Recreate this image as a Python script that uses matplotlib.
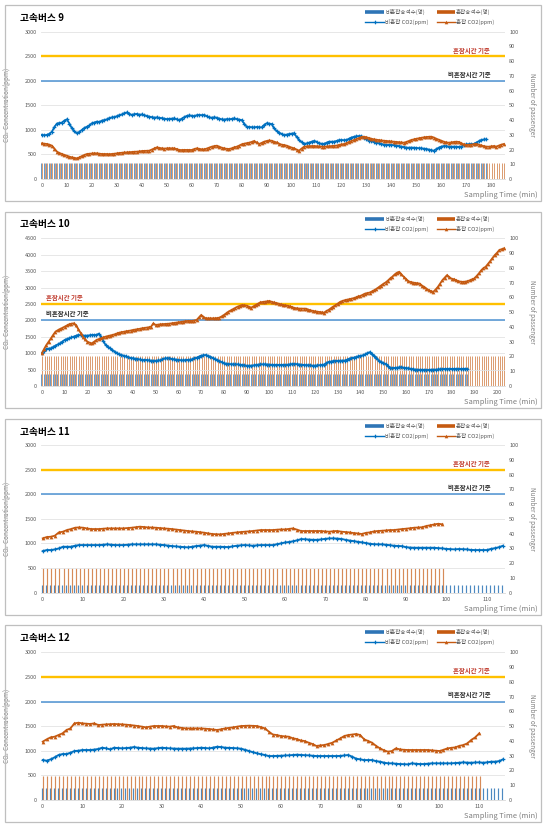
import matplotlib
matplotlib.use("Agg")
import numpy as np
import matplotlib.pyplot as plt
from matplotlib.lines import Line2D
from matplotlib.patches import Rectangle

plt.rcParams['font.family'] = ['Noto Sans CJK KR', 'DejaVu Sans']
plt.rcParams['axes.unicode_minus'] = False

W, H = 550, 827

BLUE_BAR = '#2E75B6'
ORANGE_BAR = '#C55A11'
BLUE_LINE = '#0070C0'
ORANGE_LINE = '#C55A11'
GOLD = '#FFC000'
REF_BLUE = '#5B9BD5'

# ---- 고속버스 9 ----
bus9_calm_co2 = [
    900, 890, 900, 920, 965, 1060, 1130, 1140, 1150, 1190, 1215, 1130, 1030, 970, 930, 960,
    1000, 1040, 1065, 1090, 1135, 1150, 1170, 1160, 1190, 1200, 1215, 1240, 1255, 1260, 1280, 1300,
    1315, 1340, 1355, 1330, 1305, 1320, 1325, 1310, 1315, 1300, 1285, 1270, 1260, 1250, 1255, 1245,
    1240, 1230, 1220, 1225, 1230, 1235, 1215, 1200, 1230, 1260, 1285, 1295, 1290, 1280, 1300, 1305,
    1300, 1305, 1280, 1255, 1250, 1255, 1250, 1230, 1215, 1210, 1220, 1215, 1225, 1235, 1220, 1210,
    1200, 1130, 1065, 1060, 1055, 1050, 1060, 1055, 1050, 1100, 1135, 1130, 1120, 1030, 980, 945,
    920, 895, 905, 915, 925, 930, 860, 795, 750, 715, 725, 740, 760, 775, 760, 725,
    720, 715, 740, 760, 760, 760, 775, 790, 795, 790, 795, 820, 845, 860, 870, 875,
    870, 845, 815, 780, 770, 760, 740, 725, 715, 700, 692, 695, 692, 690, 680, 668,
    658, 650, 640, 638, 640, 638, 632, 628, 625, 618, 612, 600, 585, 577, 610, 640,
    660, 672, 668, 660, 658, 660, 658, 655, 658, 690, 705, 710, 712, 713, 740, 770,
    795, 805, 808]
bus9_rush_co2 = [
    726, 720, 713, 700, 679, 620, 557, 530, 509, 490, 475, 455, 441, 430, 421, 440,
    468, 490, 509, 515, 523, 525, 523, 515, 509, 510, 509, 505, 509, 515, 523, 530,
    536, 540, 543, 548, 550, 555, 557, 562, 570, 572, 575, 577, 600, 625, 645, 635,
    625, 620, 625, 628, 625, 625, 610, 591, 590, 592, 591, 588, 591, 610, 625, 615,
    605, 604, 620, 640, 658, 670, 679, 660, 638, 625, 615, 611, 625, 645, 658, 680,
    706, 720, 730, 740, 755, 774, 745, 713, 735, 760, 774, 785, 780, 760, 745, 720,
    700, 692, 680, 660, 640, 625, 600, 577, 620, 658, 665, 670, 672, 672, 668, 665,
    660, 658, 662, 668, 670, 672, 680, 695, 705, 713, 730, 755, 775, 794, 815, 835,
    855, 862, 850, 835, 820, 808, 800, 790, 785, 781, 775, 770, 765, 760, 755, 750,
    745, 740, 755, 775, 795, 808, 820, 830, 840, 849, 855, 860, 862, 845, 820, 800,
    780, 760, 745, 740, 745, 755, 760, 755, 730, 705, 692, 695, 700, 708, 713, 700,
    685, 670, 660, 658, 665, 672, 660, 680, 700, 713]
bus9_calm_pax = [11] * 179
bus9_rush_pax = [11] * 186

# ---- 고속버스 10 ----
bus10_calm_co2 = [
    996, 1080, 1128, 1140, 1148, 1190, 1230, 1265, 1300, 1350, 1402, 1430, 1453, 1480, 1504, 1530,
    1555, 1545, 1535, 1535, 1535, 1545, 1555, 1555, 1555, 1595, 1504, 1380, 1250, 1200, 1148, 1100,
    1047, 1005, 965, 945, 925, 900, 874, 858, 843, 833, 823, 808, 793, 793, 793, 782,
    772, 772, 772, 777, 782, 810, 843, 843, 843, 828, 813, 803, 793, 788, 782, 788,
    793, 803, 813, 838, 864, 895, 925, 935, 945, 920, 894, 860, 823, 792, 762, 726,
    691, 681, 671, 665, 660, 660, 660, 650, 640, 630, 620, 620, 620, 630, 640, 650,
    660, 660, 660, 655, 650, 645, 643, 643, 643, 643, 643, 643, 650, 660, 668, 674,
    665, 655, 648, 643, 635, 630, 625, 622, 622, 625, 635, 645, 653, 700, 735, 745,
    760, 765, 770, 772, 774, 776, 800, 830, 847, 865, 878, 900, 920, 935, 960, 1000,
    1031, 960, 929, 860, 776, 740, 700, 674, 600, 541, 545, 551, 560, 565, 571, 560,
    550, 541, 530, 515, 500, 498, 495, 492, 490, 490, 492, 495, 498, 500, 505, 510,
    515, 520, 520, 518, 520, 520, 522, 520, 518, 520, 520, 522]
bus10_rush_co2 = [
    996, 1130, 1250, 1350, 1453, 1560, 1657, 1700, 1738, 1770, 1809, 1845, 1880, 1900, 1910, 1850,
    1738, 1620, 1504, 1420, 1352, 1320, 1300, 1350, 1402, 1430, 1453, 1480, 1504, 1520, 1535, 1555,
    1575, 1600, 1626, 1640, 1657, 1667, 1677, 1690, 1707, 1718, 1728, 1743, 1758, 1768, 1779, 1790,
    1809, 1910, 1860, 1870, 1880, 1885, 1890, 1895, 1900, 1910, 1921, 1930, 1941, 1950, 1961, 1970,
    1982, 1982, 1982, 1995, 2012, 2090, 2164, 2110, 2063, 2063, 2063, 2063, 2063, 2070, 2083, 2120,
    2164, 2215, 2266, 2305, 2347, 2380, 2418, 2445, 2469, 2460, 2449, 2420, 2388, 2430, 2469, 2510,
    2550, 2560, 2570, 2580, 2591, 2565, 2545, 2530, 2510, 2485, 2470, 2459, 2445, 2429, 2405, 2378,
    2368, 2360, 2357, 2357, 2357, 2330, 2306, 2290, 2276, 2265, 2255, 2245, 2235, 2285, 2320, 2370,
    2420, 2459, 2510, 2561, 2590, 2612, 2630, 2643, 2660, 2677, 2700, 2730, 2745, 2780, 2816, 2830,
    2847, 2880, 2918, 2960, 3010, 3060, 3110, 3153, 3210, 3276, 3330, 3398, 3450, 3480, 3400, 3327,
    3260, 3194, 3170, 3153, 3140, 3130, 3122, 3060, 3020, 2970, 2918, 2890, 2867, 2940, 3020, 3120,
    3225, 3300, 3378, 3320, 3270, 3255, 3225, 3194, 3180, 3173, 3180, 3194, 3220, 3250, 3276, 3350,
    3429, 3520, 3590, 3633, 3720, 3806, 3900, 3990, 4060, 4143, 4170, 4194]
bus10_calm_pax = [8] * 188
bus10_rush_pax = [20] * 204

# ---- 고속버스 11 ----
bus11_calm_co2 = [
    846, 867, 867, 880, 900, 934, 934, 934, 955, 968, 968, 968, 968, 968, 968, 975,
    982, 975, 968, 968, 968, 975, 982, 982, 982, 982, 982, 982, 982, 975, 968, 958,
    948, 940, 934, 927, 921, 934, 948, 958, 968, 950, 934, 934, 934, 930, 927, 940,
    955, 962, 968, 962, 955, 962, 968, 968, 968, 968, 985, 1002, 1020, 1030, 1045, 1065,
    1090, 1085, 1080, 1075, 1075, 1083, 1095, 1103, 1103, 1100, 1092, 1075, 1060, 1049, 1035, 1023,
    1010, 995, 985, 982, 982, 975, 965, 955, 950, 945, 925, 918, 914, 914, 914, 914,
    914, 914, 905, 900, 890, 885, 880, 887, 884, 880, 870, 867, 867, 867, 867, 890,
    905, 925, 955]
bus11_rush_co2 = [
    1104, 1131, 1137, 1158, 1225, 1239, 1273, 1293, 1320, 1327, 1320, 1305, 1293, 1293, 1293, 1300,
    1307, 1307, 1307, 1307, 1307, 1313, 1320, 1330, 1341, 1335, 1327, 1325, 1320, 1313, 1307, 1300,
    1293, 1283, 1273, 1263, 1253, 1246, 1239, 1229, 1219, 1205, 1192, 1188, 1185, 1195, 1205, 1215,
    1225, 1232, 1239, 1246, 1253, 1263, 1273, 1273, 1273, 1273, 1280, 1286, 1286, 1295, 1307, 1280,
    1253, 1253, 1253, 1253, 1253, 1253, 1245, 1239, 1250, 1253, 1239, 1232, 1225, 1212, 1205, 1192,
    1215, 1225, 1245, 1253, 1259, 1265, 1273, 1273, 1283, 1293, 1300, 1310, 1320, 1325, 1330, 1355,
    1370, 1388, 1400, 1388]
bus11_calm_pax = [5] * 115
bus11_rush_pax = [17] * 100

# ---- 고속버스 12 ----
bus12_calm_co2 = [
    812, 799, 826, 867, 914, 934, 934, 961, 995, 1002, 1016, 1016, 1016, 1025, 1036, 1063,
    1049, 1029, 1063, 1056, 1049, 1056, 1063, 1076, 1063, 1056, 1049, 1046, 1043, 1053, 1063, 1056,
    1049, 1046, 1043, 1043, 1043, 1046, 1049, 1056, 1063, 1056, 1049, 1066, 1083, 1076, 1063, 1060,
    1056, 1050, 1043, 1020, 995, 970, 948, 930, 914, 893, 894, 897, 900, 904, 907, 914,
    921, 917, 910, 907, 900, 894, 894, 894, 894, 894, 894, 897, 905, 914, 880, 840,
    826, 812, 812, 812, 790, 779, 760, 745, 745, 738, 731, 728, 724, 745, 738, 731,
    731, 738, 745, 745, 745, 745, 745, 745, 752, 758, 765, 760, 758, 762, 765, 758,
    765, 779, 779, 790, 826]
bus12_rush_co2 = [
    1185, 1232, 1273, 1286, 1320, 1354, 1422, 1455, 1557, 1570, 1557, 1550, 1544, 1557, 1523, 1530,
    1537, 1540, 1544, 1540, 1537, 1530, 1523, 1513, 1503, 1490, 1476, 1490, 1503, 1503, 1503, 1496,
    1490, 1503, 1476, 1465, 1455, 1455, 1455, 1455, 1455, 1448, 1442, 1432, 1422, 1438, 1455, 1465,
    1476, 1490, 1503, 1506, 1510, 1506, 1503, 1480, 1455, 1388, 1330, 1320, 1300, 1293, 1286, 1255,
    1239, 1210, 1198, 1165, 1137, 1097, 1110, 1117, 1140, 1164, 1210, 1252, 1300, 1320, 1330, 1341,
    1320, 1232, 1200, 1164, 1100, 1049, 1010, 982, 995, 1049, 1029, 1020, 1016, 1016, 1016, 1016,
    1016, 1016, 1010, 1002, 995, 1020, 1049, 1060, 1070, 1100, 1117, 1150, 1220, 1273, 1354]
bus12_calm_pax = [8] * 117
bus12_rush_pax = [16] * 111

LEGEND_LABELS = ['비혼잡승객수(명)', '혼잡승객수(명)', '비혼잡 CO2(ppm)', '혼잡 CO2(ppm)']


def fx(px):
    return px / W


def fy(py):
    return 1 - py / H


def draw_legend(fig, top):
    # hand placed, like the Excel legend box
    rows = [top + 7, top + 16.5]
    cols = [(365, 384), (437, 455)]
    styles = [(BLUE_BAR, None), (ORANGE_BAR, None), (BLUE_LINE, 'P'), (ORANGE_LINE, '^')]
    for i, (color, marker) in enumerate(styles):
        x0, x1 = cols[i % 2]
        y = fy(rows[i // 2])
        if marker is None:
            fig.add_artist(Line2D([fx(x0), fx(x1)], [y, y], color=color, lw=2.6,
                                  transform=fig.transFigure, solid_capstyle='butt'))
        else:
            fig.add_artist(Line2D([fx(x0), fx(x1)], [y, y], color=color, lw=1.0,
                                  transform=fig.transFigure))
            fig.add_artist(Line2D([fx((x0 + x1) / 2)], [y], color=color, marker=marker,
                                  ms=2.6, mew=0, transform=fig.transFigure))
        fig.text(fx(x1 + 1), y, LEGEND_LABELS[i], fontsize=4, color='#595959',
                 ha='left', va='center')


def draw_panel(fig, title, box, plot, calm_co2, rush_co2, calm_pax, rush_pax,
               ymax, n_cat, ref_left, bar_off, bar_lw):
    bx0, by0, bx1, by1 = box
    fig.patches.append(Rectangle((fx(bx0), fy(by1)), fx(bx1 - bx0), (by1 - by0) / H,
                                 transform=fig.transFigure, fill=False,
                                 edgecolor='#BFBFBF', lw=0.9))
    left, top, right, bottom = plot
    ax = fig.add_axes([fx(left), fy(bottom), fx(right - left), (bottom - top) / H])
    ax2 = ax.twinx()

    # passenger bars sit behind the CO2 lines
    ax2.vlines(np.arange(len(calm_pax)) - bar_off, 0, calm_pax, colors=BLUE_BAR,
               lw=bar_lw, alpha=0.85)
    ax2.vlines(np.arange(len(rush_pax)) + bar_off, 0, rush_pax, colors=ORANGE_BAR,
               lw=bar_lw, alpha=0.7)
    ax2.set_ylim(0, 100)
    ax2.set_yticks(np.arange(0, 101, 10))

    ax.set_zorder(ax2.get_zorder() + 1)
    ax.patch.set_visible(False)

    ax.axhline(2500, color=GOLD, lw=1.7, zorder=2)
    ax.axhline(2000, color=REF_BLUE, lw=1.2, zorder=2)
    ax.plot(np.arange(len(calm_co2)), calm_co2, color=BLUE_LINE, lw=1.3,
            marker='P', ms=2.7, mew=0, zorder=3)
    ax.plot(np.arange(len(rush_co2)), rush_co2, color=ORANGE_LINE, lw=1.3,
            marker='^', ms=2.7, mew=0, zorder=3)

    if ref_left:
        tx, ha = 0.012, 'left'
    else:
        tx, ha = 0.968, 'right'
    ax.annotate('혼잡시간 기준', (tx, 2500), xycoords=('axes fraction', 'data'),
                xytext=(0, 4.5), textcoords='offset points', ha=ha, va='center',
                fontsize=4.6, fontweight='bold', color='#C0392B')
    ax.annotate('비혼잡시간 기준', (tx, 2000), xycoords=('axes fraction', 'data'),
                xytext=(0, 4.8), textcoords='offset points', ha=ha, va='center',
                fontsize=4.6, fontweight='bold', color='#262626')

    ax.set_xlim(-0.5, n_cat - 0.5)
    ax.set_ylim(0, ymax)
    ax.set_yticks(np.arange(0, ymax + 1, 500))
    ax.set_xticks(np.arange(0, n_cat, 10))
    ax.grid(axis='y', color='#E3E3E3', lw=0.6)
    ax.set_axisbelow(True)

    for a in (ax, ax2):
        for s in a.spines.values():
            s.set_visible(False)
        a.tick_params(length=0, labelsize=4, labelcolor='#595959', pad=3)
    ax.spines['bottom'].set_visible(True)
    ax.spines['bottom'].set_color('#D9D9D9')
    ax.spines['bottom'].set_linewidth(0.6)

    ax.set_ylabel('CO$_2$ Concentration(ppm)', fontsize=4.6, color='#7F7F7F')
    ax.yaxis.set_label_coords((13 - left) / (right - left), 0.5)
    ax2.set_ylabel('Number of passenger', fontsize=4.6, color='#7F7F7F', rotation=270,
                   va='center')
    ax2.yaxis.set_label_coords((531.5 - left) / (right - left), 0.5)

    fig.text(fx(20), fy(by0 + 12.5), title, fontsize=7, fontweight='bold',
             ha='left', va='center')
    fig.text(fx(538), fy(by1 - 6), 'Sampling Time (min)', fontsize=5.4,
             color='#7F7F7F', ha='right', va='center')
    draw_legend(fig, by0)


fig = plt.figure(figsize=(5.5, 8.27), dpi=100)

draw_panel(fig, '고속버스 9', (5, 5, 541, 201), (40.7, 31.7, 505, 179),
           bus9_calm_co2, bus9_rush_co2, bus9_calm_pax, bus9_rush_pax,
           3000, 186, False, 0.22, 0.6)
draw_panel(fig, '고속버스 10', (5, 212, 541, 408), (40.7, 238.3, 505, 386),
           bus10_calm_co2, bus10_rush_co2, bus10_calm_pax, bus10_rush_pax,
           4500, 204, True, 0.22, 0.6)
draw_panel(fig, '고속버스 11', (5, 419, 541, 615), (40.7, 445, 505, 592.7),
           bus11_calm_co2, bus11_rush_co2, bus11_calm_pax, bus11_rush_pax,
           3000, 115, False, 0.15, 0.85)
draw_panel(fig, '고속버스 12', (5, 625, 541, 822), (40.7, 652.3, 505, 800),
           bus12_calm_co2, bus12_rush_co2, bus12_calm_pax, bus12_rush_pax,
           3000, 117, False, 0.15, 0.85)

fig.savefig('out.png', dpi=100, facecolor='white')
